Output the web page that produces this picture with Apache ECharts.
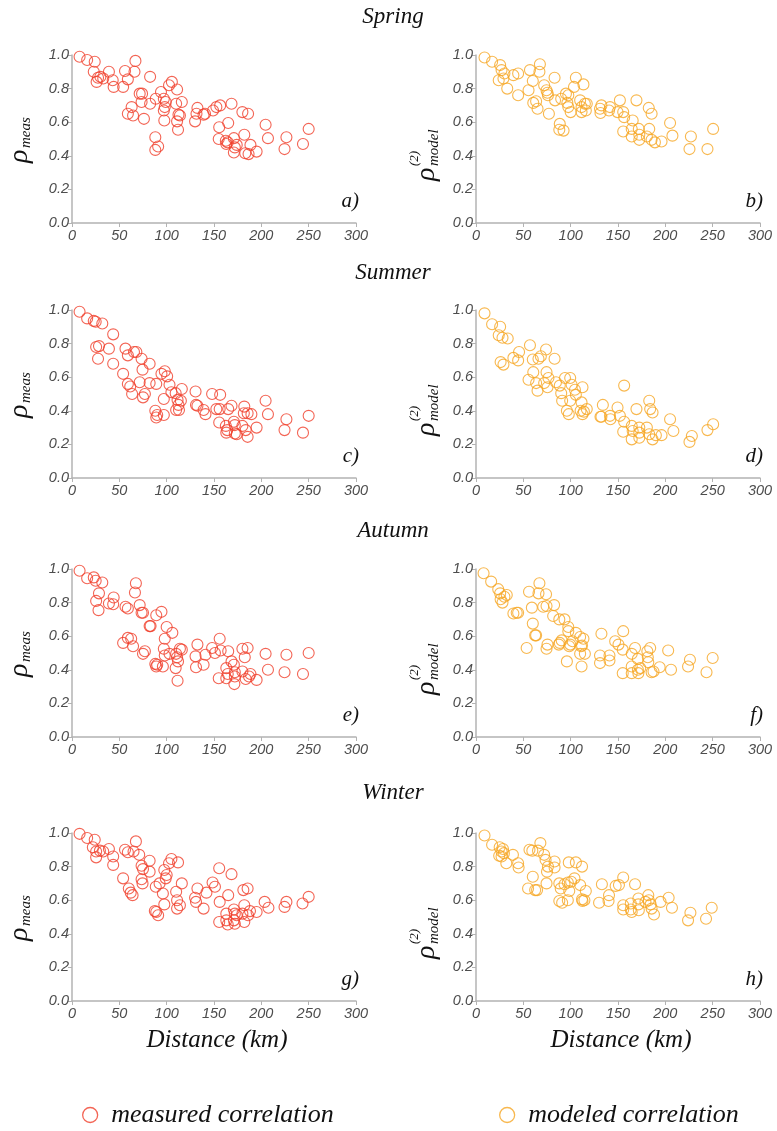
<!DOCTYPE html>
<html>
<head>
<meta charset="utf-8">
<script src="https://cdn.jsdelivr.net/npm/echarts@6/dist/echarts.min.js"></script>
<style>
  html, body { margin: 0; padding: 0; background: #ffffff; }
  #chart { width: 777px; height: 1131px; }
</style>
</head>
<body>
<div id="chart"></div>
<script>
// Season titles, panel letters and axis ticks
const seasons = ['Spring', 'Summer', 'Autumn', 'Winter'];
const panelLetters = ['a', 'b', 'c', 'd', 'e', 'f', 'g', 'h'];
const distanceTicks = [0, 50, 100, 150, 200, 250, 300];
const rhoTicks = [0, 0.2, 0.4, 0.6, 0.8, 1.0];
const seriesNames = ['measured correlation', 'modeled correlation'];

// [distance (km), correlation] pairs
const springMeas = [
  [8,0.99],[16,0.97],[24,0.96],[23,0.90],[26,0.84],[27.5,0.865],[30,0.87],[33,0.86],[39,0.90],[43,0.85],
  [44,0.81],[54,0.81],[56,0.905],[59,0.855],[66,0.90],[67,0.965],[59,0.65],[63,0.69],[64.5,0.64],[76,0.62],
  [71.5,0.77],[74,0.77],[73.5,0.72],[82.5,0.87],[82.5,0.71],[88.5,0.74],[88,0.51],[88,0.435],[91,0.455],[94,0.78],
  [97,0.74],[99,0.72],[97,0.67],[98,0.69],[97.5,0.61],[102.5,0.82],[105.5,0.84],[111,0.795],[110,0.71],[112.5,0.645],
  [111,0.605],[112,0.555],[114,0.64],[116,0.72],[130,0.605],[131.5,0.65],[132.5,0.685],[140.5,0.65],[139,0.645],[149,0.67],
  [152.5,0.69],[156.5,0.70],[168.5,0.71],[155.5,0.57],[155,0.50],[165,0.595],[162.5,0.49],[163,0.47],[164.5,0.48],[171,0.505],
  [172,0.45],[171,0.42],[174,0.465],[180,0.66],[186,0.65],[182,0.525],[183,0.415],[186.5,0.41],[188.5,0.465],[195,0.425],
  [204.5,0.585],[207,0.505],[226.5,0.51],[224.5,0.44],[244,0.47],[250,0.56]
];
const springModel = [
  [9,0.985],[17,0.96],[25.5,0.94],[27,0.91],[30,0.89],[24,0.85],[29,0.86],[33,0.80],[39.5,0.88],[44.5,0.89],
  [44.5,0.76],[55.5,0.79],[57,0.91],[60,0.845],[60.5,0.715],[63.5,0.725],[65,0.68],[67,0.90],[67.5,0.945],[72,0.82],
  [74.5,0.79],[75.5,0.775],[76,0.76],[77,0.65],[83,0.865],[83.5,0.73],[88.5,0.59],[88,0.555],[92.5,0.55],[90,0.74],
  [95,0.77],[97.5,0.76],[96.5,0.715],[97.5,0.69],[100,0.66],[103.5,0.81],[105.5,0.865],[113.5,0.825],[110,0.73],[111.5,0.69],
  [115,0.71],[111.5,0.66],[116,0.67],[117,0.71],[131.5,0.655],[132.5,0.70],[131,0.68],[141.5,0.69],[140.5,0.67],[149.5,0.66],
  [152,0.73],[155.5,0.66],[156.5,0.63],[155.5,0.545],[165.5,0.61],[164.5,0.56],[164.5,0.515],[169.5,0.73],[172,0.56],[172.5,0.525],
  [172.5,0.495],[180.5,0.515],[183,0.56],[182.5,0.685],[185.5,0.65],[185.5,0.495],[189,0.48],[196,0.485],[205,0.595],[207.5,0.52],
  [225.5,0.44],[227,0.515],[244.5,0.44],[250.5,0.56]
];
const summerMeas = [
  [8,0.99],[16,0.95],[23,0.935],[25,0.93],[32,0.92],[43.5,0.855],[25.5,0.78],[28.5,0.785],[27.5,0.71],[39,0.77],
  [43.5,0.68],[54,0.62],[56.5,0.77],[59,0.73],[59,0.56],[61.5,0.545],[63.5,0.50],[65.5,0.75],[68,0.75],[71.5,0.57],
  [73.5,0.71],[74.5,0.645],[75,0.48],[77,0.50],[82,0.68],[82,0.565],[88,0.40],[89,0.56],[90,0.375],[89,0.36],
  [94.5,0.62],[97,0.375],[98,0.635],[97,0.47],[100.5,0.605],[103,0.555],[105,0.51],[109.5,0.505],[111.5,0.465],[112.5,0.435],
  [110,0.405],[113,0.405],[115,0.46],[116,0.53],[130.5,0.515],[131,0.435],[132.5,0.43],[139,0.405],[141,0.38],[148,0.50],
  [152.5,0.41],[156.5,0.495],[155.5,0.33],[156,0.41],[165,0.41],[168.5,0.43],[162.5,0.31],[163,0.27],[164,0.285],[171,0.335],
  [172,0.315],[172,0.265],[174,0.26],[180,0.31],[182,0.425],[181.5,0.385],[183.5,0.285],[185.5,0.245],[185.5,0.385],[189.5,0.38],
  [195,0.30],[204.5,0.46],[207,0.38],[226.5,0.35],[224.5,0.285],[244,0.27],[250,0.37]
];
const summerModel = [
  [9,0.98],[17,0.915],[25.5,0.90],[24,0.85],[28,0.835],[33.5,0.83],[26,0.69],[29,0.675],[39.5,0.715],[44.5,0.70],
  [45.5,0.75],[57,0.79],[60,0.705],[66,0.71],[68.5,0.725],[74,0.765],[55.5,0.585],[60.5,0.63],[63.5,0.565],[65,0.52],
  [72,0.565],[74.5,0.63],[76.5,0.595],[75.5,0.54],[83,0.71],[84.5,0.57],[88.5,0.55],[90,0.505],[91,0.46],[94,0.595],
  [99.5,0.595],[96,0.40],[98,0.38],[99.5,0.46],[101,0.555],[104.5,0.525],[105.5,0.495],[112.5,0.54],[111.5,0.45],[110.5,0.40],
  [112.5,0.38],[114,0.395],[117,0.41],[131.5,0.365],[132.5,0.365],[134,0.435],[141.5,0.37],[142,0.35],[149.5,0.42],[152,0.37],
  [156.5,0.55],[156.5,0.335],[155.5,0.275],[164.5,0.31],[165.5,0.28],[164.5,0.23],[169.5,0.41],[172.5,0.30],[172.5,0.27],[172.5,0.24],
  [180.5,0.30],[183,0.46],[184,0.41],[186.5,0.39],[183,0.26],[186.5,0.23],[190,0.255],[196,0.255],[205,0.35],[208.5,0.28],
  [225.5,0.215],[228,0.25],[244.5,0.285],[250.5,0.32]
];
const autumnMeas = [
  [8,0.99],[16,0.945],[23,0.95],[25,0.93],[32,0.92],[28.5,0.855],[25.5,0.81],[28,0.755],[39,0.795],[43.5,0.79],
  [44,0.83],[56.5,0.775],[59,0.765],[67.5,0.915],[66.5,0.86],[71.5,0.785],[73.5,0.74],[75,0.74],[54,0.56],[59,0.59],
  [62.5,0.585],[64.5,0.54],[75,0.495],[77,0.51],[82,0.66],[83,0.66],[89,0.725],[94.5,0.745],[100,0.655],[106,0.62],
  [98,0.585],[88,0.435],[90,0.43],[89,0.42],[96,0.42],[97,0.525],[98,0.485],[103,0.495],[110,0.495],[111,0.475],
  [112,0.45],[109.5,0.41],[111.5,0.335],[114,0.525],[116,0.52],[130.5,0.48],[132.5,0.55],[131,0.415],[139,0.43],[141,0.49],
  [148,0.53],[151,0.50],[156,0.585],[157,0.515],[155,0.35],[165,0.51],[168.5,0.45],[163,0.41],[164.5,0.375],[163,0.35],
  [171,0.43],[172,0.385],[172,0.36],[171.5,0.315],[180,0.39],[180,0.525],[185.5,0.53],[182.5,0.475],[183.5,0.345],[187,0.36],
  [188.5,0.375],[195,0.34],[204.5,0.495],[207,0.40],[226.5,0.49],[224.5,0.385],[244,0.375],[250,0.50]
];
const autumnModel = [
  [8,0.975],[16,0.925],[23.5,0.88],[25.5,0.855],[26,0.82],[28,0.80],[32.5,0.845],[30,0.835],[39.5,0.735],[43,0.74],
  [44.5,0.74],[56,0.865],[59,0.77],[66,0.855],[67,0.915],[74,0.85],[71,0.775],[74.5,0.78],[82.5,0.785],[81.5,0.72],
  [53.5,0.53],[60,0.675],[62.5,0.605],[63.5,0.605],[74.5,0.525],[75.5,0.55],[87.5,0.55],[88.5,0.56],[90.5,0.575],[88,0.70],
  [93.5,0.70],[97.5,0.655],[97.5,0.63],[96,0.45],[99.5,0.55],[98.5,0.54],[102,0.57],[105.5,0.62],[110,0.595],[111,0.54],
  [113.5,0.585],[112,0.545],[110,0.495],[115,0.495],[111.5,0.42],[132.5,0.615],[131,0.485],[131,0.44],[141,0.485],[141,0.455],
  [147,0.57],[150.5,0.55],[155,0.52],[155.5,0.63],[155,0.38],[164.5,0.495],[164.5,0.42],[164.5,0.38],[168,0.53],[171,0.465],
  [171,0.40],[173.5,0.41],[171.5,0.38],[181,0.51],[184,0.53],[181.5,0.475],[182,0.445],[185.5,0.385],[187.5,0.39],[194,0.415],
  [203,0.515],[206,0.40],[224,0.42],[226,0.46],[243.5,0.385],[250,0.47]
];
const winterMeas = [
  [8,0.995],[16,0.97],[24,0.96],[22,0.915],[25.5,0.89],[25.5,0.855],[29.5,0.895],[33,0.89],[39,0.905],[43.5,0.86],
  [43.5,0.81],[54,0.73],[56,0.90],[59,0.885],[60,0.67],[62,0.645],[64,0.63],[65,0.89],[67.5,0.95],[71,0.87],
  [73.5,0.805],[75,0.785],[73.5,0.725],[74.5,0.70],[82,0.835],[82,0.77],[88.5,0.68],[87.5,0.535],[91,0.51],[89,0.53],
  [92.5,0.70],[96,0.64],[97.5,0.575],[97.5,0.78],[100,0.75],[99,0.73],[102.5,0.82],[105,0.845],[112,0.825],[110,0.65],
  [111,0.60],[111,0.55],[114,0.57],[116,0.70],[130,0.615],[131,0.59],[132.5,0.67],[139,0.55],[142,0.645],[148.5,0.705],
  [151,0.68],[155.5,0.79],[156,0.59],[155.5,0.47],[165,0.63],[168.5,0.755],[163,0.52],[163,0.48],[164.5,0.455],[171,0.545],
  [172,0.52],[171,0.48],[172,0.46],[174,0.51],[180,0.52],[181,0.66],[185.5,0.67],[182,0.57],[182,0.47],[186,0.51],
  [188,0.535],[195,0.53],[203.5,0.59],[207.5,0.555],[226.5,0.59],[224.5,0.56],[243.5,0.58],[250,0.62]
];
const winterModel = [
  [9,0.985],[17,0.93],[25,0.915],[27,0.89],[28.5,0.905],[29.5,0.88],[24.5,0.865],[27,0.86],[32,0.82],[39,0.87],
  [44.5,0.82],[45,0.795],[56.5,0.90],[59.5,0.895],[65.5,0.895],[68,0.94],[72,0.87],[73.5,0.84],[76,0.80],[75,0.77],
  [74.5,0.70],[83,0.83],[83,0.795],[55,0.67],[60,0.74],[62.5,0.66],[64.5,0.66],[88,0.70],[89.5,0.67],[88,0.595],
  [91,0.585],[93.5,0.695],[97,0.705],[98.5,0.655],[97,0.60],[98,0.825],[100.5,0.71],[104,0.73],[105.5,0.825],[110,0.69],
  [112,0.80],[112,0.605],[112.5,0.595],[114.5,0.60],[116,0.655],[130,0.585],[133,0.695],[140.5,0.63],[140,0.595],[147.5,0.685],
  [151,0.69],[155.5,0.735],[155.5,0.57],[155.5,0.545],[163.5,0.58],[163.5,0.545],[164.5,0.53],[168,0.695],[171.5,0.61],[171.5,0.575],
  [172,0.54],[179,0.59],[182,0.63],[182.5,0.60],[184.5,0.575],[185.5,0.55],[188,0.515],[195,0.59],[203.5,0.615],[207,0.555],
  [224,0.48],[226.5,0.525],[243,0.49],[249,0.555]
];

const panelData = [springMeas, springModel, summerMeas, summerModel, autumnMeas, autumnModel, winterMeas, winterModel];

const RED = '#f03e2b';
const ORANGE = '#f6a623';
const AXIS_GREY = '#b3b3b3';
const SERIF = '"Liberation Serif", "DejaVu Serif", serif';
const SANS = '"Liberation Sans", Arial, sans-serif';

const rowTops = [55, 310, 569, 833];
const colLefts = [72, 476];
const plotW = 284, plotH = 168;

const grids = [], xAxes = [], yAxes = [], series = [], graphics = [];

panelData.forEach((data, i) => {
  const row = Math.floor(i / 2), col = i % 2;
  const left = colLefts[col], top = rowTops[row];
  grids.push({ left: left, top: top, width: plotW, height: plotH });
  xAxes.push({
    gridIndex: i, type: 'value', min: distanceTicks[0], max: distanceTicks[distanceTicks.length - 1],
    interval: distanceTicks[1] - distanceTicks[0],
    axisLine: { show: true, onZero: false, lineStyle: { color: AXIS_GREY, width: 1.5 } },
    axisTick: { show: true, length: 4, lineStyle: { color: AXIS_GREY, width: 1 } },
    axisLabel: { fontFamily: SANS, fontStyle: 'italic', fontSize: 14.5, color: '#4d4d4d', margin: 5 },
    splitLine: { show: false }
  });
  yAxes.push({
    gridIndex: i, type: 'value', min: rhoTicks[0], max: rhoTicks[rhoTicks.length - 1], interval: 0.2,
    axisLine: { show: true, lineStyle: { color: AXIS_GREY, width: 1.5 } },
    axisTick: { show: true, length: 4, lineStyle: { color: AXIS_GREY, width: 1 } },
    axisLabel: { fontFamily: SANS, fontStyle: 'italic', fontSize: 14.5, color: '#4d4d4d', margin: 3,
                 formatter: v => v.toFixed(1) },
    splitLine: { show: false }
  });
  const colour = col === 0 ? RED : ORANGE;
  series.push({
    name: seriesNames[col], type: 'scatter', xAxisIndex: i, yAxisIndex: i, data: data,
    symbol: 'circle', symbolSize: 11,
    itemStyle: { color: 'rgba(0,0,0,0)', borderColor: colour, borderWidth: 1.1 },
    emphasis: { disabled: true }
  });

  // panel letter in the lower-right corner
  graphics.push({
    type: 'text', x: left + plotW + 3, y: top + plotH - 22,
    style: { text: panelLetters[i] + ')', font: 'italic 21px ' + SERIF, fill: '#111', align: 'right', verticalAlign: 'middle' }
  });

  // rotated y-axis name: rho with sub/superscripts
  const cy = top + plotH / 2;
  if (col === 0) {
    graphics.push({
      type: 'group', x: left - 52, y: cy, rotation: Math.PI / 2,
      children: [
        { type: 'text', x: -24, y: 0, style: { text: 'ρ', font: 'italic 28px ' + SERIF, fill: '#111', verticalAlign: 'middle' } },
        { type: 'text', x: -9, y: 6, style: { text: 'meas', font: 'italic 15px ' + SERIF, fill: '#111', verticalAlign: 'middle' } }
      ]
    });
  } else {
    graphics.push({
      type: 'group', x: left - 49, y: cy, rotation: Math.PI / 2,
      children: [
        { type: 'text', x: -42, y: 0, style: { text: 'ρ', font: 'italic 28px ' + SERIF, fill: '#111', verticalAlign: 'middle' } },
        { type: 'text', x: -27, y: -12, style: { text: '(2)', font: 'italic 13px ' + SERIF, fill: '#111', verticalAlign: 'middle' } },
        { type: 'text', x: -27, y: 7, style: { text: 'model', font: 'italic 15px ' + SERIF, fill: '#111', verticalAlign: 'middle' } }
      ]
    });
  }
});

// season titles
const titleY = [17, 273, 531, 793];
seasons.forEach((s, r) => {
  graphics.push({
    type: 'text', x: 393, y: titleY[r],
    style: { text: s, font: 'italic 23px ' + SERIF, fill: '#111', align: 'center', verticalAlign: 'middle' }
  });
});

// x-axis name under the bottom row
[colLefts[0], colLefts[1]].forEach(l => {
  graphics.push({
    type: 'text', x: l + plotW / 2 + 3, y: 1040,
    style: { text: 'Distance (km)', font: 'italic 25px ' + SERIF, fill: '#111', align: 'center', verticalAlign: 'middle' }
  });
});

const legendCommon = {
  orient: 'horizontal', itemWidth: 32, itemHeight: 15, icon: 'circle',
  textStyle: { fontFamily: SERIF, fontStyle: 'italic', fontSize: 26, color: '#111' },
  selectedMode: false
};

const option = {
  animation: false,
  backgroundColor: '#ffffff',
  grid: grids,
  xAxis: xAxes,
  yAxis: yAxes,
  series: series,
  legend: [
    Object.assign({}, legendCommon, { left: 77, top: 1097, data: [seriesNames[0]],
      itemStyle: { color: 'rgba(0,0,0,0)', borderColor: RED, borderWidth: 1.3 } }),
    Object.assign({}, legendCommon, { left: 494, top: 1097, data: [seriesNames[1]],
      itemStyle: { color: 'rgba(0,0,0,0)', borderColor: ORANGE, borderWidth: 1.3 } })
  ],
  graphic: graphics
};

const chart = echarts.init(document.getElementById('chart'), null, { renderer: 'canvas' });
chart.setOption(option);
</script>
</body>
</html>
